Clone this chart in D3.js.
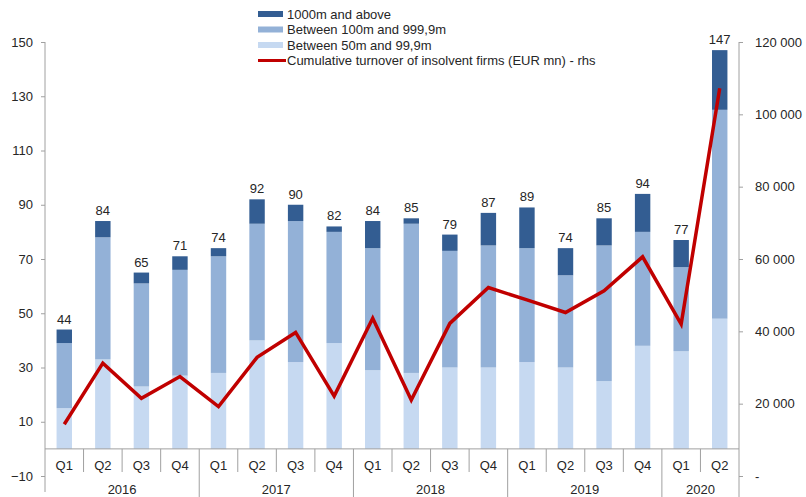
<!DOCTYPE html>
<html>
<head>
<meta charset="utf-8">
<script src="https://cdn.jsdelivr.net/npm/d3@7"></script>
<style>
  body { margin: 0; background: #fff; }
  svg text { font-family: "Liberation Sans", Arial, sans-serif; fill: #262626; }
</style>
</head>
<body>
<svg id="chart" width="806" height="497"></svg>
<script>
// quarters and years
const quarters = ["Q1","Q2","Q3","Q4","Q1","Q2","Q3","Q4","Q1","Q2","Q3","Q4","Q1","Q2","Q3","Q4","Q1","Q2"];
const years = ["2016","2016","2016","2016","2017","2017","2017","2017","2018","2018","2018","2018","2019","2019","2019","2019","2020","2020"];

// number of insolvent firms by turnover size
const small = [15, 33, 23, 27, 28, 40, 32, 39, 29, 28, 30, 30, 32, 30, 25, 38, 36, 48];
const medium = [24, 45, 38, 39, 43, 43, 52, 41, 45, 55, 43, 45, 42, 34, 50, 42, 31, 77];
const large = [5, 6, 4, 5, 3, 9, 6, 2, 10, 2, 6, 12, 15, 10, 10, 14, 10, 22];
const totals = [44, 84, 65, 71, 74, 92, 90, 82, 84, 85, 79, 87, 89, 74, 85, 94, 77, 147];

// cumulative turnover, EUR mn (rhs)
const turnover = [14300, 31200, 21500, 27500, 19200, 32800, 39700, 22100, 43600, 21000, 42200, 52100, 48700, 45200, 51200, 60600, 42000, 107200];

const leftTicks = [-10, 10, 30, 50, 70, 90, 110, 130, 150];
const rightTicks = [0, 20000, 40000, 60000, 80000, 100000, 120000];

const seriesNames = ["1000m and above", "Between 100m and 999,9m", "Between 50m and 99,9m", "Cumulative turnover of insolvent firms (EUR mn) - rhs"];
const colors = { large: "#335d92", medium: "#93b1d7", small: "#c6d9f1", line: "#c00000" };

const svg = d3.select("#chart");
const plotLeft = 45, plotRight = 739, plotTop = 42, plotBottom = 476;
const axisColor = "#a0a0a0";

const x = d3.scaleBand().domain(d3.range(quarters.length)).range([plotLeft, plotRight]).paddingInner(0.6).paddingOuter(0.3);
const xc = d3.scaleBand().domain(d3.range(quarters.length)).range([plotLeft, plotRight]);
const yL = d3.scaleLinear().domain([-10, 150]).range([plotBottom, plotTop]);
const yR = d3.scaleLinear().domain([0, 120000]).range([plotBottom, plotTop]);

// stacked bars
const rows = quarters.map((q, i) => ({ i: i, small: small[i], medium: medium[i], large: large[i] }));
const stack = d3.stack().keys(["small", "medium", "large"])(rows);

svg.append("g").selectAll("g").data(stack).enter().append("g")
  .attr("fill", d => colors[d.key])
  .selectAll("rect").data(d => d).enter().append("rect")
  .attr("x", d => x(d.data.i))
  .attr("width", x.bandwidth())
  .attr("y", d => yL(d[1]))
  .attr("height", d => yL(d[0]) - yL(d[1]));

// total labels
svg.append("g").selectAll("text").data(totals).enter().append("text")
  .attr("x", (d, i) => x(i) + x.bandwidth() / 2)
  .attr("y", d => yL(d) - 6)
  .attr("text-anchor", "middle")
  .attr("font-size", 13)
  .text(d => d);

// left axis
const gL = svg.append("g").attr("transform", `translate(${plotLeft},0)`)
  .call(d3.axisLeft(yL).tickValues(leftTicks).tickSize(4).tickPadding(8));
gL.select(".domain").remove();
gL.selectAll("line").attr("stroke", axisColor);
gL.selectAll("text").attr("font-size", 13).style("font-family", "Liberation Sans, Arial, sans-serif").attr("fill", "#262626");
svg.append("line").attr("x1", plotLeft).attr("x2", plotLeft).attr("y1", plotTop).attr("y2", 492).attr("stroke", axisColor);

// right axis
const gR = svg.append("g").attr("transform", `translate(${plotRight},0)`)
  .call(d3.axisRight(yR).tickValues(rightTicks).tickSize(4).tickPadding(12)
    .tickFormat(d => d === 0 ? "-" : d3.format(",")(d).replace(/,/g, " ")));
gR.select(".domain").remove();
gR.selectAll("line").attr("stroke", axisColor);
gR.selectAll("text").attr("font-size", 13).style("font-family", "Liberation Sans, Arial, sans-serif").attr("fill", "#262626");
svg.append("line").attr("x1", plotRight).attr("x2", plotRight).attr("y1", plotTop).attr("y2", 497).attr("stroke", axisColor);

// category axis at zero
const y0 = yL(0);
svg.append("line").attr("x1", plotLeft).attr("x2", plotRight).attr("y1", y0).attr("y2", y0).attr("stroke", axisColor);
const seps = d3.range(1, quarters.length);
svg.append("g").selectAll("line").data(seps).enter().append("line")
  .attr("x1", i => xc(i)).attr("x2", i => xc(i))
  .attr("y1", y0)
  .attr("y2", i => years[i] !== years[i - 1] ? 497 : 472)
  .attr("stroke", axisColor);

svg.append("g").selectAll("text").data(quarters).enter().append("text")
  .attr("x", (d, i) => xc(i) + xc.bandwidth() / 2)
  .attr("y", 470)
  .attr("text-anchor", "middle")
  .attr("font-size", 13)
  .text(d => d);

const yearGroups = d3.groups(quarters.map((q, i) => ({ i: i, y: years[i] })), d => d.y);
svg.append("g").selectAll("text").data(yearGroups).enter().append("text")
  .attr("x", d => (xc(d[1][0].i) + xc(d[1][d[1].length - 1].i) + xc.bandwidth()) / 2)
  .attr("y", 494)
  .attr("text-anchor", "middle")
  .attr("font-size", 13)
  .text(d => d[0]);

// turnover line
const line = d3.line().x((d, i) => xc(i) + xc.bandwidth() / 2).y(d => yR(d));
svg.append("path").datum(turnover)
  .attr("d", line)
  .attr("fill", "none")
  .attr("stroke", colors.line)
  .attr("stroke-width", 3.5)
  .attr("stroke-linejoin", "miter");

// legend
const legend = svg.append("g").attr("transform", "translate(258,0)");
const legendColors = [colors.large, colors.medium, colors.small, colors.line];
seriesNames.forEach((name, i) => {
  const ly = 14 + i * 15.5;
  if (i < 3) {
    legend.append("rect").attr("x", 0).attr("y", ly - 3).attr("width", 25).attr("height", 6).attr("fill", legendColors[i]);
  } else {
    legend.append("line").attr("x1", 0).attr("x2", 28).attr("y1", ly).attr("y2", ly)
      .attr("stroke", legendColors[i]).attr("stroke-width", 3);
  }
  legend.append("text").attr("x", 29).attr("y", ly + 4.5).attr("font-size", 13).text(name);
});
</script>
</body>
</html>
